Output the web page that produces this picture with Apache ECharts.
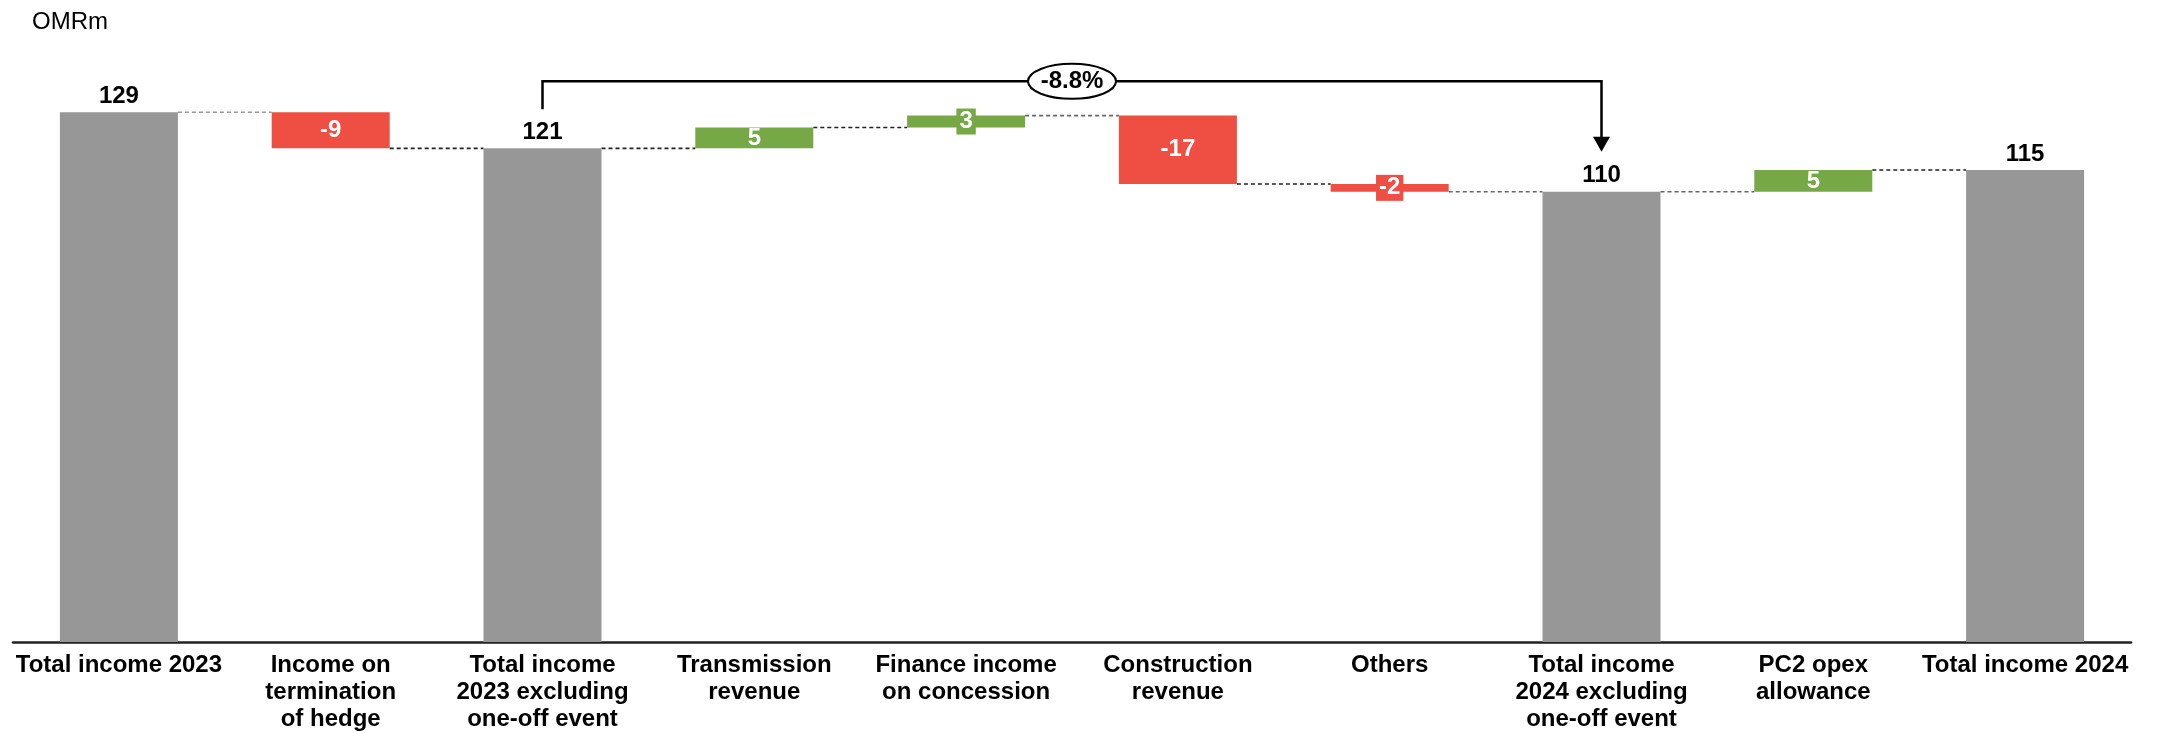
<!DOCTYPE html>
<html><head><meta charset="utf-8">
<script src="https://cdn.jsdelivr.net/npm/echarts@6/dist/echarts.min.js"></script>
<style>html,body{margin:0;padding:0;background:#fff}#c{width:2158px;height:733px}</style>
</head><body><div id="c"></div>
<script>
// ---- data ----
const categories = ['Total income 2023', 'Income on\ntermination\nof hedge', 'Total income\n2023 excluding\none-off event', 'Transmission\nrevenue', 'Finance income\non concession', 'Construction\nrevenue', 'Others', 'Total income\n2024 excluding\none-off event', 'PC2 opex\nallowance', 'Total income 2024'];
const barKinds = ['total', 'delta', 'total', 'delta', 'delta', 'delta', 'delta', 'total', 'delta', 'total'];
const barValues = [129.4, -8.8, 120.6, 5.1, 2.9, -16.7, -1.9, 110.0, 5.3, 115.3];
const barLabels = ['129', '-9', '121', '5', '3', '-17', '-2', '110', '5', '115'];
const unitLabel = 'OMRm';
const bracketFrom = 2;
const bracketTo = 7;
const bracketLabel = '-8.8%';

// ---- styles ----
const FONT = '"Liberation Sans", Arial, Helvetica, sans-serif';
const GREY = '#979797', RED = '#EF4E42', GREEN = '#76A845';
const BAR_W = 118;
const CONNECTOR_COLORS = ['#999', '#222', '#222', '#222', '#666', '#222', '#666', '#666', '#222'];

// derived waterfall geometry (values only)
let run = 0;
const bases = [], heights = [], levels = [];
barValues.forEach((v, i) => {
  if (barKinds[i] === 'total') { bases.push(0); heights.push(v); run = v; }
  else { const e = run + v; bases.push(Math.min(run, e)); heights.push(Math.abs(v)); run = e; }
  levels.push(run);
});
const tops = bases.map((b, i) => b + heights[i]);
const maxTop = Math.max.apply(null, tops);

const valueData = barValues.map((v, i) => {
  const isTotal = barKinds[i] === 'total';
  const color = isTotal ? GREY : (v < 0 ? RED : GREEN);
  const label = isTotal
    ? { show: true, position: 'top', distance: 4, color: '#000', fontSize: 24, fontWeight: 'bold', fontFamily: FONT, formatter: barLabels[i] }
    : { show: true, position: 'inside', color: '#fff', fontSize: 24, fontWeight: 'bold', fontFamily: FONT, formatter: barLabels[i],
        lineHeight: 24, padding: [1, 3],
        backgroundColor: Math.abs(v) < 4 ? color : 'transparent' };
  return { value: heights[i], itemStyle: { color }, label };
});

const connectorData = levels.slice(0, -1).map((l, i) => [i, l]);

const chart = echarts.init(document.getElementById('c'), null, { renderer: 'canvas' });
chart.setOption({
  animation: false,
  backgroundColor: '#fff',
  title: { text: unitLabel, left: 27, top: 5, textStyle: { fontSize: 24, fontWeight: 'normal', color: '#000', fontFamily: FONT } },
  grid: { left: 13, right: 27, top: 28, bottom: 86, containLabel: false },
  xAxis: {
    type: 'category', data: categories,
    axisLine: { show: true, lineStyle: { color: '#222', width: 2.5 } },
    axisTick: { show: false },
    axisLabel: { interval: 0, margin: 10, color: '#000', fontSize: 24, fontWeight: 'bold', fontFamily: FONT, lineHeight: 27, align: 'center' }
  },
  yAxis: { type: 'value', min: 0, max: 150, show: false, splitLine: { show: false } },
  series: [
    { type: 'bar', stack: 'wf', barWidth: BAR_W, silent: true, itemStyle: { color: 'transparent' }, data: bases, z: 2 },
    { type: 'bar', stack: 'wf', barWidth: BAR_W, silent: true, data: valueData, z: 3 },
    {
      type: 'custom', coordinateSystem: 'cartesian2d', silent: true, z: 1,
      data: connectorData,
      renderItem: function (params, api) {
        const i = api.value(0), l = api.value(1);
        const a = api.coord([i, l]), b = api.coord([i + 1, l]);
        return {
          type: 'line',
          shape: { x1: a[0] + BAR_W / 2, y1: a[1], x2: b[0] - BAR_W / 2, y2: b[1] },
          style: { stroke: CONNECTOR_COLORS[params.dataIndex], lineWidth: 1.6, lineDash: [4, 3] }
        };
      }
    },
    {
      type: 'custom', coordinateSystem: 'cartesian2d', silent: true, z: 10,
      data: [[bracketFrom, tops[bracketFrom]]],
      renderItem: function (params, api) {
        const x1 = api.coord([bracketFrom, 0])[0];
        const x2 = api.coord([bracketTo, 0])[0];
        const yStart = api.coord([bracketFrom, tops[bracketFrom]])[1] - 39;
        const yTip = api.coord([bracketTo, tops[bracketTo]])[1] - 40;
        const yLine = api.coord([0, maxTop])[1] - 31;
        const cx = (x1 + x2) / 2;
        return {
          type: 'group',
          children: [
            { type: 'polyline', shape: { points: [[x1, yStart], [x1, yLine], [x2, yLine], [x2, yTip - 14]] },
              style: { stroke: '#000', lineWidth: 2.5, fill: null } },
            { type: 'polygon', shape: { points: [[x2 - 8.5, yTip - 15], [x2 + 8.5, yTip - 15], [x2, yTip]] },
              style: { fill: '#000' } },
            { type: 'ellipse', shape: { cx: cx, cy: yLine, rx: 44, ry: 17.5 },
              style: { fill: '#fff', stroke: '#000', lineWidth: 2 } },
            { type: 'text', x: cx, y: yLine,
              style: { text: bracketLabel, fill: '#000', fontSize: 24, fontWeight: 'bold', fontFamily: FONT, align: 'center', verticalAlign: 'middle' } }
          ]
        };
      }
    }
  ]
});
</script></body></html>
